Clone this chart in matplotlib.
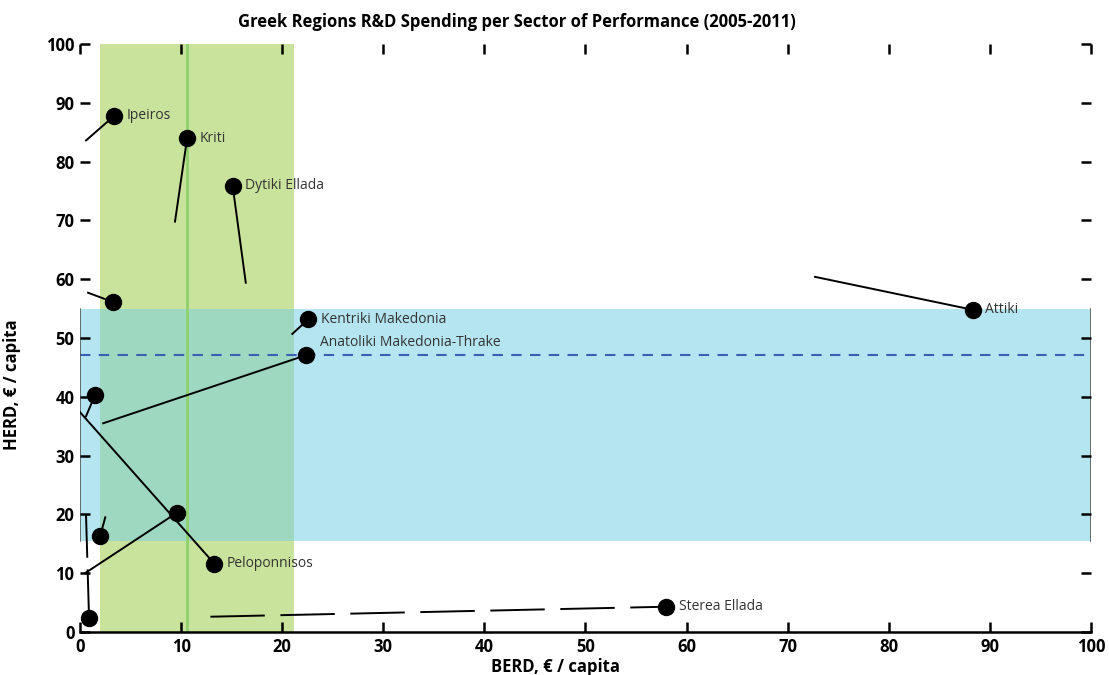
import numpy as np
import matplotlib
matplotlib.use('Agg')
import matplotlib.pyplot as plt
from matplotlib.patches import Rectangle

plt.rcParams.update({'font.family': 'Open Sans'})

# Regions: trail start (earlier year) and dot (latest year), € per capita
regions = ['Ipeiros', 'Kriti', 'Dytiki Ellada', '', 'Kentriki Makedonia',
           'Anatoliki Makedonia-Thrake', '', 'Peloponnisos', '', '', '',
           'Sterea Ellada', 'Attiki']
berd_start = [0.6, 9.4, 16.4, 0.8, 21.0, 2.3, 0.6, 0.0, 0.5, 2.5, 0.6, 12.9, 72.7]
herd_start = [83.6, 69.8, 59.4, 57.7, 50.7, 35.5, 36.7, 37.4, 10.0, 19.5, 19.9, 2.6, 60.4]
berd_end = [3.4, 10.6, 15.1, 3.3, 22.6, 22.4, 1.5, 13.3, 9.6, 2.0, 0.9, 58.0, 88.3]
herd_end = [87.8, 84.0, 75.9, 56.1, 53.2, 47.1, 40.3, 11.6, 20.3, 16.3, 2.3, 4.3, 54.8]

# reference bands
berd_band = (2.0, 21.2)
berd_avg = 10.6
herd_band = (15.5, 54.9)
herd_avg = 47.1

fig = plt.figure(figsize=(11.09, 6.75), dpi=100)
ax = fig.add_axes([0.0721, 0.0637, 0.9117, 0.8711])

blue = '#b5e5f0'
green = '#cae39c'
mix = '#9fd8c1'
ax.add_patch(Rectangle((0, herd_band[0]), 100, herd_band[1] - herd_band[0],
                       facecolor=blue, edgecolor='none', zorder=0))
ax.add_patch(Rectangle((berd_band[0], 0), berd_band[1] - berd_band[0], 100,
                       facecolor=green, edgecolor='none', zorder=0))
ax.add_patch(Rectangle((berd_band[0], herd_band[0]), berd_band[1] - berd_band[0],
                       herd_band[1] - herd_band[0], facecolor=mix, edgecolor='none', zorder=0.5))
ax.axvline(berd_avg, color='#8fd06c', lw=2, zorder=1)
ax.axhline(herd_avg, color='#3a5fb5', lw=1.5, ls=(0, (5, 4)), zorder=1)
for xe in (0, 100):
    ax.plot([xe, xe], herd_band, color='#555555', lw=1.2, zorder=1)

for i, name in enumerate(regions):
    ls = '-'
    if name == 'Sterea Ellada':
        ls = (0, (28, 8))
    elif i == 10:
        ls = (0, (22, 6))
    ax.plot([berd_start[i], berd_end[i]], [herd_start[i], herd_end[i]],
            color='black', lw=1.4, ls=ls, zorder=3)
    ax.plot(berd_end[i], herd_end[i], 'o', color='black', ms=11.5, zorder=4)
    if name:
        dx, dy = 9, 0
        if name.startswith('Anatoliki'):
            dx, dy = 10, 9
        ax.annotate(name, xy=(berd_end[i], herd_end[i]), xytext=(dx, dy),
                    textcoords='offset points', va='center', ha='left',
                    fontsize=10, color='#333333', zorder=5)

ax.set_xlim(0, 100)
ax.set_ylim(0, 100)
ax.set_xticks(np.arange(0, 101, 10))
ax.set_yticks(np.arange(0, 101, 10))
ax.tick_params(direction='in', length=7, width=1.8, top=True, right=True,
               labelsize=12, pad=4)
for lab in ax.get_xticklabels() + ax.get_yticklabels():
    lab.set_fontweight('bold')
for s in ('top', 'left', 'right'):
    ax.spines[s].set_visible(False)
ax.spines['bottom'].set_linewidth(1.8)

ax.set_xlabel('BERD, € / capita', fontsize=12, fontweight='bold', labelpad=0)
ax.xaxis.set_label_coords(0.47, -0.045)
ax.set_ylabel('HERD, € / capita', fontsize=12, fontweight='bold')
ax.yaxis.set_label_coords(-0.058, 0.42)
fig.text(0.466, 0.967, 'Greek Regions R&D Spending per Sector of Performance (2005-2011)',
         ha='center', va='center', fontsize=12, fontweight='bold')

fig.savefig('out.png', dpi=100)
